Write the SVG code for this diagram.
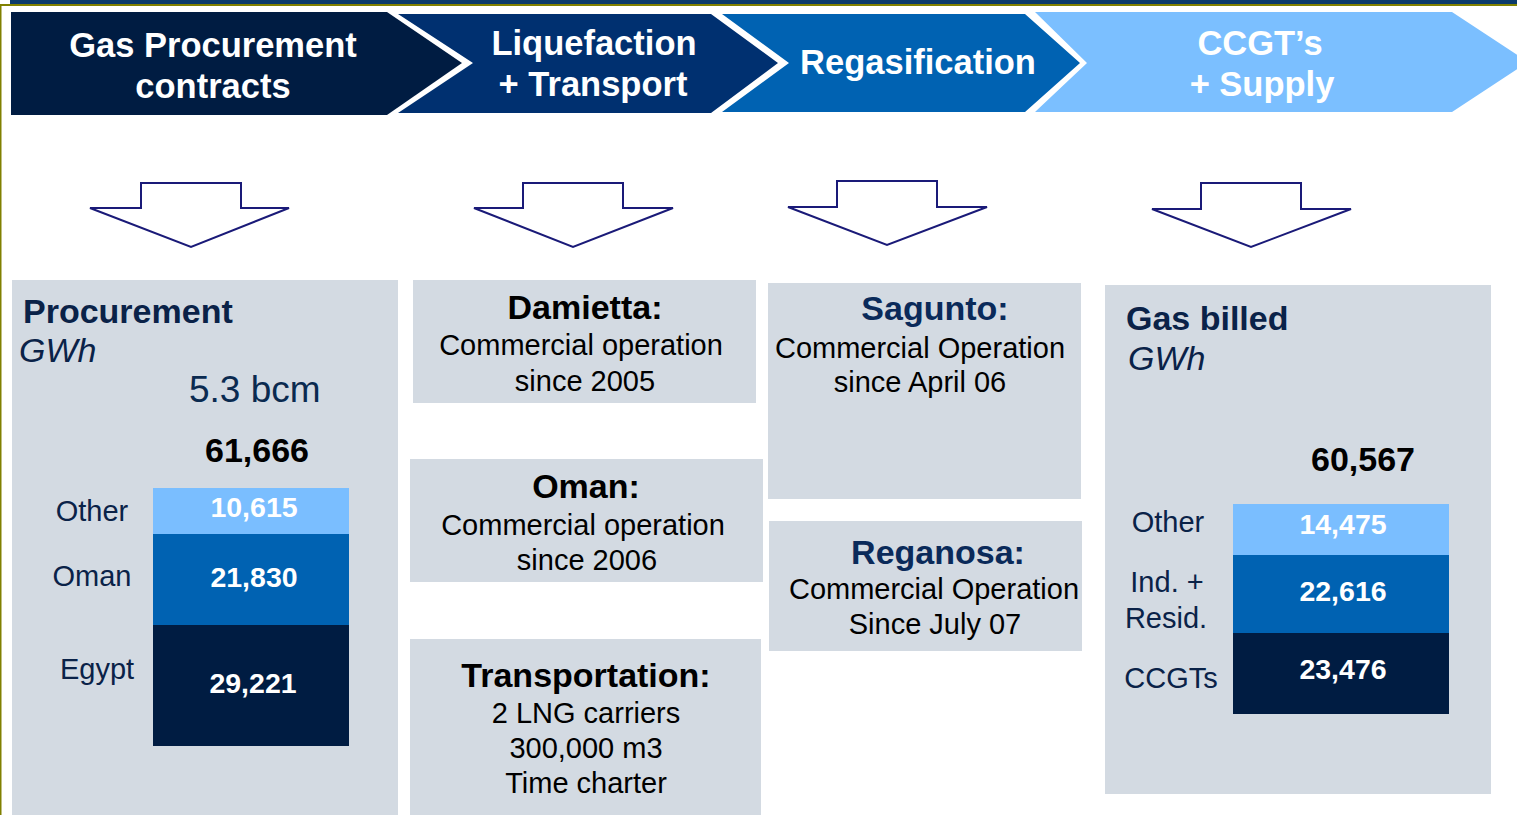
<svg xmlns="http://www.w3.org/2000/svg" width="1517" height="815" viewBox="0 0 1517 815">
<style>
text{font-family:"Liberation Sans",Arial,sans-serif}
.ch{fill:#fff;font-weight:bold;font-size:34.5px;text-anchor:middle}
.panel{fill:#d3dae2}
.arrow{fill:#fff;stroke:#1a1a78;stroke-width:2;stroke-linejoin:miter}
.ttl{font-weight:bold;font-size:34px;text-anchor:middle;fill:#000}
.ttln{font-weight:bold;font-size:34px;text-anchor:middle;fill:#0a2a5a}
.body{font-size:29px;text-anchor:middle;fill:#000}
.hdr{font-weight:bold;font-size:34px;fill:#0a2248}
.unit{font-style:italic;font-size:34px;fill:#0a2248}
.lbl{font-size:29px;text-anchor:middle;fill:#0a2248}
.val{font-weight:bold;font-size:28.5px;text-anchor:middle;fill:#fff}
.tot{font-weight:bold;font-size:34px;fill:#000}
.c1{fill:#001c42}.c2{fill:#003070}.c3{fill:#0062b2}.c4{fill:#7bbfff}
</style>
<rect x="0" y="0" width="1517" height="815" fill="#fff"/>
<rect x="10" y="0" width="1507" height="4" fill="#0b3a6b"/>
<rect x="0" y="4" width="1517" height="2" fill="#808000"/>
<rect x="0" y="4" width="1.5" height="811" fill="#808000"/>

<g id="chevron-procurement">
<polygon class="c1" points="11,12 387,12 462,63 387,115 11,115"/>
<text class="ch" x="213" y="57">Gas Procurement</text>
<text class="ch" x="213" y="98">contracts</text>
</g>
<g id="chevron-liquefaction">
<polygon class="c2" points="398,14 711,14 778,63 711,113 398,113 473,63"/>
<text class="ch" x="594" y="55">Liquefaction</text>
<text class="ch" x="593" y="96">+ Transport</text>
</g>
<g id="chevron-regasification">
<polygon class="c3" points="722,14 1025,14 1080,63 1025,112 722,112 789,63"/>
<text class="ch" x="918" y="74">Regasification</text>
</g>
<g id="chevron-supply">
<polygon class="c4" points="1035,12 1452,12 1528,62 1452,112 1035,112 1087,63"/>
<text class="ch" x="1260" y="55">CCGT’s</text>
<text class="ch" x="1262" y="96">+ Supply</text>
</g>

<g id="connectors">
<polygon class="arrow" points="141,183 241,183 241,208 289,208 191,247 90,208 141,208"/>
<polygon class="arrow" points="523,183 623,183 623,208 673,208 573,247 474,208 523,208"/>
<polygon class="arrow" points="837,181 937,181 937,207 987,207 887,245 788,207 837,207"/>
<polygon class="arrow" points="1201,183 1301,183 1301,209 1351,209 1251,247 1152,209 1201,209"/>
</g>

<g id="procurement">
<rect class="panel" x="12" y="280" width="386" height="535"/>
<text class="hdr" x="23" y="323">Procurement</text>
<text class="unit" x="19" y="362">GWh</text>
<text x="189" y="402" font-size="37px" fill="#0a2a50">5.3 bcm</text>
<text class="tot" x="205" y="462">61,666</text>
<rect x="153" y="488" width="196" height="46" fill="#7abeff"/>
<rect x="153" y="534" width="196" height="91" fill="#0062b2"/>
<rect x="153" y="625" width="196" height="121" fill="#001c42"/>
<text class="val" x="254" y="517">10,615</text>
<text class="val" x="254" y="587">21,830</text>
<text class="val" x="253" y="693">29,221</text>
<text class="lbl" x="92" y="521">Other</text>
<text class="lbl" x="92" y="586">Oman</text>
<text class="lbl" x="97" y="679">Egypt</text>
</g>

<g id="damietta">
<rect class="panel" x="413" y="280" width="343" height="123"/>
<text class="ttl" x="585" y="319">Damietta:</text>
<text class="body" x="581" y="355">Commercial operation</text>
<text class="body" x="585" y="391">since 2005</text>
</g>
<g id="oman">
<rect class="panel" x="410" y="459" width="353" height="123"/>
<text class="ttl" x="586" y="498">Oman:</text>
<text class="body" x="583" y="535">Commercial operation</text>
<text class="body" x="587" y="570">since 2006</text>
</g>
<g id="transportation">
<rect class="panel" x="410" y="639" width="351" height="176"/>
<text class="ttl" x="586" y="687">Transportation:</text>
<text class="body" x="586" y="723">2 LNG carriers</text>
<text class="body" x="586" y="758">300,000 m3</text>
<text class="body" x="586" y="793">Time charter</text>
</g>
<g id="sagunto">
<rect class="panel" x="768" y="283" width="313" height="216"/>
<text class="ttln" x="935" y="320">Sagunto:</text>
<text class="body" x="920" y="358">Commercial Operation</text>
<text class="body" x="920" y="392">since April 06</text>
</g>
<g id="reganosa">
<rect class="panel" x="769" y="521" width="313" height="130"/>
<text class="ttln" x="938" y="564">Reganosa:</text>
<text class="body" x="934" y="599">Commercial Operation</text>
<text class="body" x="935" y="634">Since July 07</text>
</g>

<g id="gas-billed">
<rect class="panel" x="1105" y="285" width="386" height="509"/>
<text class="hdr" x="1126" y="330">Gas billed</text>
<text class="unit" x="1128" y="370">GWh</text>
<text class="tot" x="1311" y="471">60,567</text>
<rect x="1233" y="504" width="216" height="51" fill="#7abeff"/>
<rect x="1233" y="555" width="216" height="78" fill="#0062b2"/>
<rect x="1233" y="633" width="216" height="81" fill="#001c42"/>
<text class="val" x="1343" y="534" font-size="26px">14,475</text>
<text class="val" x="1343" y="601" font-size="26px">22,616</text>
<text class="val" x="1343" y="679" font-size="26px">23,476</text>
<text class="lbl" x="1168" y="532">Other</text>
<text class="lbl" x="1167" y="592">Ind. +</text>
<text class="lbl" x="1166" y="628">Resid.</text>
<text class="lbl" x="1171" y="688">CCGTs</text>
</g>
</svg>
